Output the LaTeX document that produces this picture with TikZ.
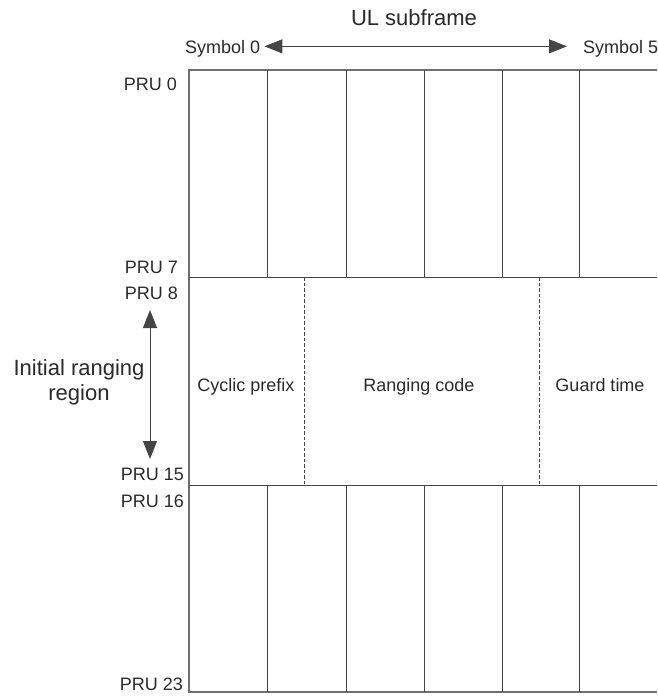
\documentclass[tikz,border=0pt]{standalone}
\usepackage{fontspec}
\setmainfont{Liberation Sans}
\usetikzlibrary{arrows.meta}
\definecolor{ln}{HTML}{454545}
\definecolor{lnlight}{HTML}{6E6E6E}
\definecolor{tx}{HTML}{2A2A2A}
\begin{document}
\begin{tikzpicture}[x=1pt,y=-1pt,
  lbl/.style={font=\fontsize{18}{21}\selectfont, text=tx, inner sep=0pt},
  big/.style={font=\fontsize{22}{25}\selectfont, text=tx, inner sep=0pt},
  gridline/.style={draw=ln, line width=0.95pt},
  border/.style={draw=lnlight, line width=1.1pt},
  dashline/.style={draw=ln, line width=0.95pt, dash pattern=on 3.5pt off 2pt},
  arr/.style={draw=ln, line width=1pt, {Triangle[length=18pt,width=14pt]}-{Triangle[length=18pt,width=14pt]}}
]
\useasboundingbox (0,0) rectangle (657,696);

% header
\node[big, anchor=base] (title) at (414,25) {UL subframe};
\node[lbl, anchor=base west] (s0) at (185,53) {Symbol 0};
\node[lbl, anchor=base west] (s5) at (583,53) {Symbol 5};
\draw[arr] ([xshift=4pt,yshift=2pt]s0.east) -- ([xshift=-16pt,yshift=2pt]s5.west);

% PRU labels
\node[lbl, anchor=base east] (p0) at (177,90) {PRU 0};
\node[lbl, anchor=base east] (p7) at (178,273) {PRU 7};
\node[lbl, anchor=base east] (p8) at (178,299) {PRU 8};
\node[lbl, anchor=base east] (p15) at (184,480) {PRU 15};
\node[lbl, anchor=base east] (p16) at (184,507) {PRU 16};
\node[lbl, anchor=base east] (p23) at (183,690) {PRU 23};

% initial ranging region
\node[big, align=center] (irr) at (79,382) {Initial ranging\\region};
\coordinate (rt) at (150,310);
\coordinate (rb) at (150,459);
\draw[arr] (rt) -- (rb);

% grid: outer lines
\draw[border] (657,70) -- (189,70) -- (189,692) -- (657,692);
\draw[gridline] (189,277) -- (657,277);
\draw[gridline] (189,485) -- (657,485);

% top block columns
\foreach \x in {267,346,424,502,579} {
  \draw[gridline] (\x,70) -- (\x,277);
}
% bottom block columns
\foreach \x in {267,346,424,502,579} {
  \draw[gridline] (\x,485) -- (\x,692);
}
% ranging region dashed separators
\draw[dashline] (304,277) -- (304,485);
\draw[dashline] (539,277) -- (539,485);

% region labels
\node[lbl, anchor=base] (cp) at (246,391) {Cyclic prefix};
\node[lbl, anchor=base] (rc) at (419,391) {Ranging code};
\node[lbl, anchor=base] (gt) at (600,391) {Guard time};
\end{tikzpicture}
\end{document}
